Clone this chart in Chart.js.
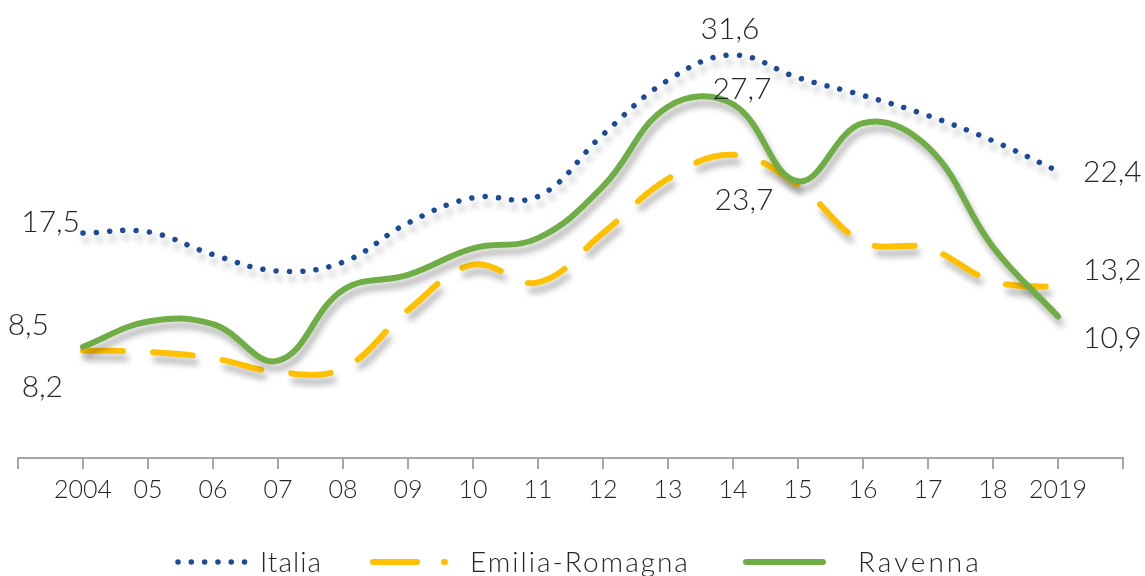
<!DOCTYPE html>
<html>
<head>
<meta charset="utf-8">
<script src="https://cdn.jsdelivr.net/npm/chart.js@4.4.1/dist/chart.umd.min.js"></script>
<style>
  html, body { margin: 0; padding: 0; background: #ffffff; }
  #c { display: block; }
</style>
</head>
<body>
<canvas id="c" width="1145" height="576"></canvas>
<script>
// ---- data ----
const years = ['2004', '05', '06', '07', '08', '09', '10', '11', '12', '13', '14', '15', '16', '17', '18', '2019'];
const italia  = [17.5, 17.6, 15.8, 14.5, 15.2, 18.3, 20.3, 20.4, 25.3, 29.6, 31.6, 29.8, 28.4, 26.8, 24.8, 22.4];
const emilia  = [8.2, 8.1, 7.6, 6.5, 6.8, 11.4, 15.0, 13.6, 17.5, 21.8, 23.7, 21.3, 16.8, 16.3, 13.7, 13.2];
const ravenna = [8.5, 10.5, 10.3, 7.4, 13.0, 14.2, 16.3, 17.1, 21.2, 27.5, 27.7, 21.6, 26.2, 24.3, 16.4, 10.9];
const seriesNames = ['Italia', 'Emilia-Romagna', 'Ravenna'];
const labelledIdx = [0, 10, 15];

// axis has an empty slot at each end
const axisLabels = [''].concat(years, ['']);
const pad = arr => [null].concat(arr, [null]);

const FONT = 'Lato, "Open Sans", sans-serif';
const TEXT = '#262626';

// label placement relative to point: [dx, dy, align]
const labelPlace = [
  [[-3, -1, 'right'], [-3, -16, 'center'], [25, 11, 'left']],
  [[-20, 46, 'right'], [11, 55, 'center'], [25, -7, 'left']],
  [[-34, -12, 'right'], [9, -5, 'center'], [25, 32, 'left']]
];

const shadowPlugin = {
  id: 'lineShadow',
  beforeDatasetDraw(chart) {
    const c = chart.ctx;
    c.save();
    c.shadowColor = 'rgba(0,0,0,0.30)';
    c.shadowBlur = 6;
    c.shadowOffsetX = 3;
    c.shadowOffsetY = 7;
  },
  afterDatasetDraw(chart) {
    chart.ctx.restore();
  }
};

const valueLabels = {
  id: 'valueLabels',
  afterDatasetsDraw(chart) {
    const c = chart.ctx;
    c.save();
    c.font = '300 30px ' + FONT;
    c.fillStyle = TEXT;
    c.textBaseline = 'alphabetic';
    chart.data.datasets.forEach((ds, di) => {
      const meta = chart.getDatasetMeta(di);
      labelledIdx.forEach((idx, k) => {
        const pt = meta.data[idx + 1];
        const v = ds.data[idx + 1];
        const [dx, dy, al] = labelPlace[di][k];
        c.textAlign = al;
        c.fillText(v.toFixed(1).replace('.', ','), pt.x + dx, pt.y + dy);
      });
    });
    c.restore();
  }
};

const customLegend = {
  id: 'customLegend',
  afterDraw(chart) {
    const c = chart.ctx;
    const y = 562;
    const items = [
      { x0: 178, x1: 246, tx: 260, ls: 1 },
      { x0: 373, x1: 445, tx: 470, ls: 2 },
      { x0: 746, x1: 823, tx: 858, ls: 3 }
    ];
    c.save();
    chart.data.datasets.forEach((ds, i) => {
      const it = items[i];
      c.beginPath();
      c.strokeStyle = ds.borderColor;
      c.lineWidth = ds.borderWidth;
      c.lineCap = ds.borderCapStyle || 'butt';
      c.setLineDash(ds.legendDash || ds.borderDash || []);
      c.moveTo(it.x0, y);
      c.lineTo(it.x1, y);
      c.stroke();
      c.setLineDash([]);
      c.font = '300 28px ' + FONT;
      c.fillStyle = TEXT;
      c.textAlign = 'left';
      c.textBaseline = 'alphabetic';
      if ('letterSpacing' in c) c.letterSpacing = it.ls + 'px';
      c.fillText(ds.label, it.tx, 572);
      if ('letterSpacing' in c) c.letterSpacing = '0px';
    });
    c.restore();
  }
};

new Chart(document.getElementById('c'), {
  type: 'line',
  data: {
    labels: axisLabels,
    datasets: [
      {
        label: seriesNames[0],
        data: pad(italia),
        borderColor: '#1B4A97',
        borderWidth: 5.5,
        borderDash: [0.01, 13.3],
        borderCapStyle: 'round',
        tension: 0.4,
        pointRadius: 0,
        fill: false
      },
      {
        label: seriesNames[1],
        data: pad(emilia),
        borderColor: '#FFC000',
        borderWidth: 6,
        borderDash: [40, 30],
        legendDash: [44, 27],
        borderCapStyle: 'round',
        tension: 0.4,
        pointRadius: 0,
        fill: false,
        order: 2
      },
      {
        label: seriesNames[2],
        data: pad(ravenna),
        borderColor: '#70AD47',
        borderWidth: 6,
        borderCapStyle: 'round',
        tension: 0.4,
        pointRadius: 0,
        fill: false,
        order: 1
      }
    ]
  },
  options: {
    responsive: false,
    animation: false,
    devicePixelRatio: 1,
    layout: { padding: { left: 18, right: 22, top: 12, bottom: 0 } },
    plugins: {
      legend: { display: false },
      tooltip: { enabled: false }
    },
    scales: {
      x: {
        offset: false,
        grid: {
          display: true,
          drawOnChartArea: false,
          drawTicks: true,
          tickLength: 11,
          color: '#a6a6a6',
          lineWidth: 2
        },
        border: { display: true, color: '#a6a6a6', width: 2 },
        ticks: {
          autoSkip: false,
          maxRotation: 0,
          padding: 6,
          color: TEXT,
          font: { family: FONT, size: 25, weight: '300' }
        },
        afterFit(s) { s.height = 118; }
      },
      y: {
        display: false,
        min: -0.3,
        max: 35
      }
    }
  },
  plugins: [shadowPlugin, valueLabels, customLegend]
});
</script>
</body>
</html>
